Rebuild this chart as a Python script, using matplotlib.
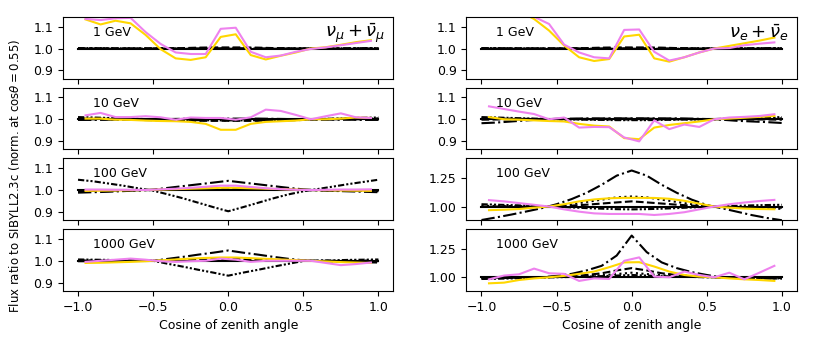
import matplotlib
matplotlib.use("Agg")
import matplotlib.pyplot as plt

# -----------------------------------------------------
# data
# -----------------------------------------------------

# bin centres for the MC ratios, fine grid for the model ratios
cz_bins = [-0.95, -0.85, -0.75, -0.65, -0.55, -0.45, -0.35, -0.25, -0.15, -0.05,
           0.05, 0.15, 0.25, 0.35, 0.45, 0.55, 0.65, 0.75, 0.85, 0.95]
cz_fine = [-1.0, -0.9, -0.8, -0.7, -0.6, -0.5, -0.4, -0.3, -0.2, -0.1, 0.0,
           0.1, 0.2, 0.3, 0.4, 0.5, 0.6, 0.7, 0.8, 0.9, 1.0]

energies = ["1 GeV", "10 GeV", "100 GeV", "1000 GeV"]
flavours = [r"$\nu_\mu + \bar{\nu}_\mu$", r"$\nu_e + \bar{\nu}_e$"]

# reference model (ratio to itself)
ref = [1.0, 1.0, 1.0, 1.0, 1.0, 1.0, 1.0, 1.0, 1.0, 1.0, 1.0,
       1.0, 1.0, 1.0, 1.0, 1.0, 1.0, 1.0, 1.0, 1.0, 1.0]

# ---------------- nu_mu ----------------
mu1_dashed = [1.0, 1.0, 1.0, 1.0, 1.0, 1.0, 1.001, 1.002, 1.004, 1.005, 1.005,
              1.005, 1.004, 1.002, 1.001, 1.0, 1.0, 1.0, 1.0, 1.0, 1.0]
mu1_dashdot = [0.998, 0.998, 0.999, 0.999, 1.0, 1.0, 1.0, 1.0, 1.0, 1.001, 1.001,
               1.001, 1.0, 1.0, 1.0, 1.0, 1.0, 0.999, 0.999, 0.998, 0.998]
mu1_dotted = [1.001, 1.001, 1.001, 1.0, 1.0, 1.0, 1.0, 1.0, 1.001, 1.002, 1.002,
              1.002, 1.001, 1.0, 1.0, 1.0, 1.0, 1.0, 1.001, 1.001, 1.001]
mu1_dashdotdot = [1.002, 1.002, 1.001, 1.001, 1.0, 1.0, 1.0, 0.999, 0.999, 0.999, 0.999,
                  0.999, 0.999, 0.999, 1.0, 1.0, 1.0, 1.001, 1.001, 1.002, 1.002]
mu1_gold = [1.133, 1.110, 1.127, 1.115, 1.062, 0.997, 0.955, 0.948, 0.960, 1.053,
            1.065, 0.970, 0.950, 0.967, 0.982, 1.000, 1.006, 1.017, 1.029, 1.038]
mu1_violet = [1.135, 1.130, 1.138, 1.140, 1.075, 1.021, 0.982, 0.975, 0.975, 1.090,
              1.095, 0.985, 0.960, 0.968, 0.985, 0.998, 1.005, 1.015, 1.025, 1.035]

mu10_dashed = [1.0, 1.0, 0.999, 0.998, 0.997, 0.996, 0.995, 0.994, 0.993, 0.993, 0.993,
               0.993, 0.993, 0.994, 0.995, 0.997, 0.999, 1.0, 1.0, 1.0, 1.0]
mu10_dashdot = [0.997, 0.997, 0.998, 0.998, 0.999, 1.0, 1.001, 1.002, 1.003, 1.003, 1.003,
                1.003, 1.003, 1.002, 1.001, 1.0, 0.999, 0.998, 0.998, 0.997, 0.997]
mu10_dotted = [1.004, 1.003, 1.002, 1.001, 1.0, 1.0, 1.0, 1.0, 1.0, 1.0, 1.0,
               1.0, 1.0, 1.0, 1.0, 1.0, 1.001, 1.002, 1.003, 1.004, 1.004]
mu10_dashdotdot = [1.010, 1.008, 1.006, 1.004, 1.002, 1.0, 0.998, 0.997, 0.996, 0.995, 0.995,
                   0.995, 0.996, 0.997, 0.998, 0.999, 1.001, 1.003, 1.005, 1.007, 1.008]
mu10_gold = [1.003, 1.003, 0.998, 0.997, 0.994, 0.992, 0.991, 0.988, 0.979, 0.952,
             0.952, 0.979, 0.988, 0.991, 0.994, 1.000, 1.000, 1.003, 1.008, 1.006]
mu10_violet = [1.018, 1.029, 1.010, 1.010, 1.014, 1.009, 0.998, 1.008, 1.006, 1.006,
               0.998, 1.009, 1.044, 1.038, 1.020, 1.000, 1.014, 1.027, 1.009, 1.006]

mu100_dashed = [0.995, 0.996, 0.997, 0.998, 0.999, 1.0, 1.002, 1.004, 1.006, 1.008, 1.010,
                1.008, 1.006, 1.004, 1.002, 1.0, 0.999, 0.998, 0.997, 0.996, 0.995]
mu100_dashdot = [0.988, 0.990, 0.992, 0.995, 0.998, 1.002, 1.010, 1.018, 1.026, 1.034, 1.042,
                 1.034, 1.026, 1.018, 1.010, 1.003, 0.999, 0.996, 0.994, 0.992, 0.990]
mu100_dotted = [0.995, 0.996, 0.997, 0.998, 0.999, 1.0, 1.001, 1.002, 1.003, 1.004, 1.005,
                1.004, 1.003, 1.002, 1.001, 1.0, 0.999, 0.998, 0.997, 0.996, 0.995]
mu100_dashdotdot = [1.047, 1.040, 1.030, 1.020, 1.008, 0.997, 0.980, 0.962, 0.942, 0.922, 0.903,
                    0.922, 0.942, 0.962, 0.980, 0.994, 1.005, 1.016, 1.027, 1.037, 1.047]
mu100_gold = [0.996, 0.997, 0.998, 0.999, 1.0, 1.002, 1.004, 1.006, 1.008, 1.010,
              1.010, 1.008, 1.006, 1.004, 1.002, 1.0, 0.999, 0.998, 0.997, 0.996]
mu100_violet = [1.002, 1.002, 1.001, 1.001, 1.0, 1.003, 1.006, 1.010, 1.015, 1.020,
                1.020, 1.014, 1.008, 1.004, 1.001, 1.0, 1.001, 1.002, 1.002, 1.003]

mu1000_dashed = [0.998, 0.998, 0.999, 0.999, 1.0, 1.0, 1.002, 1.004, 1.006, 1.008, 1.010,
                 1.008, 1.006, 1.004, 1.002, 1.0, 1.0, 0.999, 0.999, 0.998, 0.998]
mu1000_dashdot = [1.0, 1.0, 1.0, 1.0, 1.0, 1.0, 1.009, 1.018, 1.028, 1.037, 1.047,
                  1.037, 1.028, 1.018, 1.009, 1.002, 0.999, 0.997, 0.995, 0.993, 0.992]
mu1000_dotted = [1.001, 1.001, 1.0, 1.0, 1.0, 1.0, 1.001, 1.002, 1.003, 1.004, 1.005,
                 1.004, 1.003, 1.002, 1.001, 1.0, 1.0, 1.0, 1.0, 1.001, 1.001]
mu1000_dashdotdot = [1.006, 1.005, 1.004, 1.002, 1.001, 1.0, 0.986, 0.973, 0.959, 0.946, 0.932,
                     0.946, 0.959, 0.973, 0.986, 0.999, 1.001, 1.002, 1.004, 1.005, 1.006]
mu1000_gold = [0.990, 0.991, 0.993, 0.995, 0.998, 1.002, 1.006, 1.010, 1.013, 1.015,
               1.015, 1.012, 1.009, 1.006, 1.003, 1.000, 0.997, 0.994, 0.992, 0.990]
mu1000_violet = [0.995, 1.000, 1.005, 1.010, 1.005, 0.998, 0.995, 0.998, 1.000, 1.010,
                 1.005, 0.995, 1.000, 1.000, 1.000, 1.000, 0.990, 0.980, 0.985, 0.992]

# ---------------- nu_e ----------------
e1_dashed = [1.0, 1.0, 1.0, 1.0, 1.0, 1.0, 1.001, 1.002, 1.004, 1.005, 1.005,
             1.005, 1.004, 1.002, 1.001, 1.0, 1.0, 1.0, 1.0, 1.0, 1.0]
e1_dashdot = [0.998, 0.998, 0.999, 0.999, 1.0, 1.0, 1.0, 1.0, 1.0, 1.001, 1.001,
              1.001, 1.0, 1.0, 1.0, 1.0, 1.0, 0.999, 0.999, 0.998, 0.998]
e1_dotted = [1.001, 1.001, 1.001, 1.0, 1.0, 1.0, 1.0, 1.0, 1.001, 1.002, 1.002,
             1.002, 1.001, 1.0, 1.0, 1.0, 1.0, 1.0, 1.001, 1.001, 1.001]
e1_dashdotdot = [1.002, 1.002, 1.001, 1.001, 1.0, 1.0, 1.0, 0.999, 0.999, 0.999, 0.999,
                 0.999, 0.999, 0.999, 1.0, 1.0, 1.0, 1.001, 1.001, 1.002, 1.002]
e1_gold = [1.200, 1.145, 1.170, 1.135, 1.082, 1.014, 0.960, 0.943, 0.952, 1.055,
           1.063, 0.955, 0.940, 0.960, 0.982, 1.000, 1.012, 1.024, 1.036, 1.050]
e1_violet = [1.250, 1.220, 1.180, 1.145, 1.112, 1.018, 0.982, 0.960, 0.955, 1.085,
             1.087, 0.985, 0.945, 0.960, 0.982, 1.000, 1.002, 1.015, 1.022, 1.028]

e10_dashed = [0.998, 0.999, 1.0, 1.0, 1.0, 1.0, 1.001, 1.002, 1.002, 1.003, 1.003,
              1.003, 1.002, 1.002, 1.001, 1.0, 1.0, 1.0, 0.999, 0.999, 0.998]
e10_dashdot = [0.982, 0.985, 0.990, 0.995, 0.999, 1.002, 1.003, 1.004, 1.004, 1.004, 1.004,
               1.004, 1.004, 1.004, 1.003, 1.001, 0.998, 0.993, 0.990, 0.987, 0.983]
e10_dotted = [1.004, 1.004, 1.003, 1.002, 1.001, 1.0, 1.0, 0.999, 0.999, 0.999, 0.999,
              0.999, 0.999, 0.999, 1.0, 1.0, 1.001, 1.001, 1.002, 1.003, 1.004]
e10_dashdotdot = [1.010, 1.008, 1.006, 1.004, 1.002, 1.0, 0.999, 0.998, 0.997, 0.996, 0.996,
                  0.996, 0.997, 0.998, 0.999, 1.0, 1.002, 1.004, 1.006, 1.008, 1.010]
e10_gold = [1.010, 1.000, 0.998, 0.995, 0.992, 0.990, 0.979, 0.971, 0.967, 0.914,
            0.909, 0.962, 0.974, 0.982, 0.990, 1.000, 1.003, 1.007, 1.011, 1.015]
e10_violet = [1.059, 1.047, 1.035, 1.024, 1.000, 1.008, 0.962, 0.965, 0.964, 0.917,
              0.899, 0.995, 0.955, 0.976, 0.965, 1.000, 1.008, 1.011, 1.015, 1.023]

e100_dashed = [1.0, 1.0, 1.0, 1.0, 1.0, 1.002, 1.008, 1.016, 1.026, 1.036, 1.045,
               1.036, 1.026, 1.016, 1.008, 1.002, 0.998, 0.996, 0.994, 0.992, 0.990]
e100_dashdot = [0.882, 0.905, 0.930, 0.957, 0.985, 1.020, 1.065, 1.120, 1.190, 1.270, 1.315,
                1.270, 1.190, 1.120, 1.060, 1.013, 0.985, 0.955, 0.925, 0.900, 0.880]
e100_dotted = [1.006, 1.005, 1.004, 1.002, 1.001, 1.005, 1.020, 1.040, 1.060, 1.080, 1.088,
               1.080, 1.060, 1.040, 1.020, 1.003, 0.995, 0.990, 0.986, 0.983, 0.980]
e100_dashdotdot = [1.020, 1.016, 1.012, 1.008, 1.003, 0.998, 0.992, 0.986, 0.981, 0.977, 0.975,
                   0.977, 0.981, 0.986, 0.992, 0.998, 1.002, 1.006, 1.010, 1.013, 1.015]
e100_gold = [0.968, 0.972, 0.978, 0.990, 1.000, 1.020, 1.045, 1.062, 1.072, 1.076,
             1.076, 1.075, 1.068, 1.050, 1.025, 1.000, 0.990, 0.982, 0.978, 0.976]
e100_violet = [1.056, 1.045, 1.030, 1.015, 1.000, 0.975, 0.955, 0.940, 0.935, 0.935,
               0.935, 0.926, 0.935, 0.950, 0.975, 1.000, 1.020, 1.035, 1.048, 1.058]

e1000_dashed = [0.995, 0.996, 0.997, 0.998, 1.0, 1.004, 1.010, 1.020, 1.035, 1.060, 1.080,
                1.060, 1.035, 1.020, 1.010, 1.003, 0.999, 0.997, 0.996, 0.995, 0.994]
e1000_dashdot = [0.990, 0.992, 0.995, 0.998, 1.000, 1.012, 1.030, 1.060, 1.100, 1.190, 1.365,
                 1.220, 1.130, 1.080, 1.045, 1.020, 0.999, 0.996, 0.993, 0.990, 0.988]
e1000_dotted = [0.998, 0.998, 0.999, 0.999, 1.0, 1.002, 1.005, 1.010, 1.018, 1.028, 1.040,
                1.028, 1.018, 1.010, 1.005, 1.001, 1.0, 0.999, 0.999, 0.998, 0.998]
e1000_dashdotdot = [0.985, 0.987, 0.990, 0.993, 0.997, 1.0, 1.003, 1.006, 1.010, 1.015, 1.020,
                    1.015, 1.010, 1.006, 1.003, 1.0, 0.998, 0.996, 0.994, 0.992, 0.990]
e1000_gold = [0.947, 0.953, 0.976, 0.990, 1.000, 1.012, 1.030, 1.050, 1.088, 1.130,
              1.132, 1.094, 1.050, 1.020, 1.006, 1.000, 0.990, 0.982, 0.976, 0.968]
e1000_violet = [0.982, 1.015, 1.026, 1.076, 1.035, 1.030, 0.968, 0.990, 0.985, 1.144,
                1.174, 1.006, 1.000, 1.050, 1.020, 1.000, 1.040, 0.982, 1.040, 1.100]

panels = [
    [(mu1_dashed, mu1_dashdot, mu1_dotted, mu1_dashdotdot, mu1_gold, mu1_violet),
     (e1_dashed, e1_dashdot, e1_dotted, e1_dashdotdot, e1_gold, e1_violet)],
    [(mu10_dashed, mu10_dashdot, mu10_dotted, mu10_dashdotdot, mu10_gold, mu10_violet),
     (e10_dashed, e10_dashdot, e10_dotted, e10_dashdotdot, e10_gold, e10_violet)],
    [(mu100_dashed, mu100_dashdot, mu100_dotted, mu100_dashdotdot, mu100_gold, mu100_violet),
     (e100_dashed, e100_dashdot, e100_dotted, e100_dashdotdot, e100_gold, e100_violet)],
    [(mu1000_dashed, mu1000_dashdot, mu1000_dotted, mu1000_dashdotdot, mu1000_gold, mu1000_violet),
     (e1000_dashed, e1000_dashdot, e1000_dotted, e1000_dashdotdot, e1000_gold, e1000_violet)],
]

# -----------------------------------------------------
# plot
# -----------------------------------------------------

plt.rcParams["font.size"] = 9

fig, axes = plt.subplots(4, 2, sharex=True, figsize=(8.14, 3.44), dpi=100)
fig.subplots_adjust(left=0.0774, right=0.979, top=0.9506, bottom=0.1541,
                    wspace=0.221, hspace=0.146)

lw = 1.5

for row in range(4):
    for col in range(2):
        ax = axes[row, col]
        dashed, dashdot, dotted, dashdotdot, gold, violet = panels[row][col]

        ax.plot(cz_fine, ref, color="k", lw=lw, ls="-")
        ax.plot(cz_fine, dashed, color="k", lw=lw, ls="--")
        ax.plot(cz_fine, dashdot, color="k", lw=lw, ls="-.")
        ax.plot(cz_fine, dotted, color="k", lw=lw, ls=":")
        ax.plot(cz_fine, dashdotdot, color="k", lw=lw, ls=(0, (3, 1, 1, 1, 1, 1)))
        ax.plot(cz_bins, gold, color="gold", lw=lw)
        ax.plot(cz_bins, violet, color="violet", lw=lw)

        ax.set_xlim(-1.1, 1.1)
        ax.set_xticks([-1.0, -0.5, 0.0, 0.5, 1.0])

        if col == 1 and row >= 2:
            ax.set_ylim(0.88, 1.42)
            ax.set_yticks([1.0, 1.25])
        else:
            ax.set_ylim(0.862, 1.144)
            ax.set_yticks([0.9, 1.0, 1.1])

        ax.text(0.09, 0.75, energies[row], transform=ax.transAxes,
                ha="left", va="center")

        if row == 0:
            ax.text(0.975, 0.74, flavours[col], transform=ax.transAxes,
                    ha="right", va="center", fontsize=13)

        if row == 3:
            ax.set_xlabel("Cosine of zenith angle")

fig.text(0.009, 0.488, r"Flux ratio to SIBYLL2.3c (norm. at cos$\theta = 0.55$)",
         rotation=90, ha="left", va="center", fontsize=8.5)

fig.savefig("out.png", dpi=100)
